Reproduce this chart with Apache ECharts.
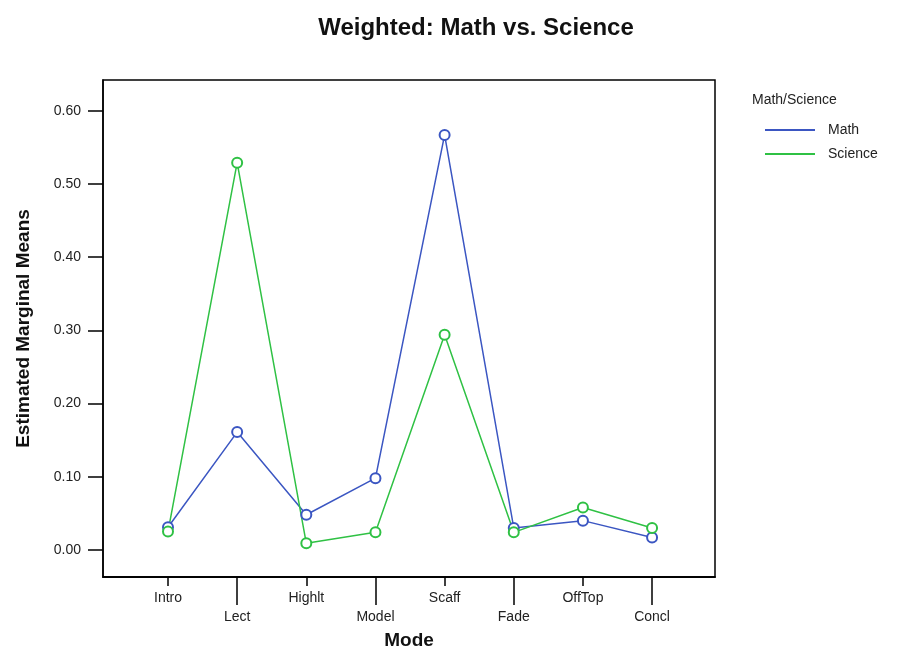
<!DOCTYPE html>
<html>
<head>
<meta charset="utf-8">
<script src="https://cdn.jsdelivr.net/npm/echarts@6/dist/echarts.min.js"></script>
<style>
  html, body { margin: 0; padding: 0; background: #fff; }
  #chart { width: 901px; height: 651px; }
</style>
</head>
<body>
<div id="chart"></div>
<script>
// modes on the x axis, in order
var categories = ['Intro', 'Lect', 'Highlt', 'Model', 'Scaff', 'Fade', 'OffTop', 'Concl']
var mathValues = [0.031, 0.161, 0.048, 0.098, 0.567, 0.030, 0.040, 0.017]
var scienceValues = [0.025, 0.529, 0.009, 0.024, 0.294, 0.024, 0.058, 0.030]
var yTicks = [0, 0.1, 0.2, 0.3, 0.4, 0.5, 0.6]

var font = 'Liberation Sans'
var evenIdx = [], oddIdx = []
categories.forEach(function (c, i) { (i % 2 ? oddIdx : evenIdx).push(i) })

function toPoints (arr) {
  return arr.map(function (v, i) { return [i, v] })
}

function xAxisFor (idx, tickLen, margin) {
  return {
    type: 'value',
    position: 'bottom',
    min: -0.94,
    max: 7.91,
    splitLine: { show: false },
    axisLine: { show: true, onZero: false, lineStyle: { color: '#000', width: 1.5 } },
    axisTick: { show: true, length: tickLen, customValues: idx, lineStyle: { color: '#000', width: 1.5 } },
    axisLabel: {
      customValues: idx,
      margin: margin,
      color: '#222',
      fontFamily: font,
      fontSize: 14,
      formatter: function (v) { return categories[Math.round(v)] }
    }
  }
}

var chart = echarts.init(document.getElementById('chart'))
chart.setOption({
  animation: false,
  color: ['#3b56c2', '#2fc144'],
  title: {
    text: 'Weighted: Math vs. Science',
    left: 471,
    top: 11,
    textAlign: 'center',
    textStyle: { fontFamily: font, fontSize: 24, fontWeight: 'bold', color: '#111' }
  },
  graphic: [{
    type: 'text',
    left: 752,
    top: 93,
    style: { text: 'Math/Science', fontFamily: font, fontSize: 14, fill: '#222' }
  }],
  legend: {
    orient: 'vertical',
    left: 760,
    top: 118,
    itemWidth: 50,
    itemHeight: 2,
    itemGap: 10,
    icon: 'rect',
    textStyle: { fontFamily: font, fontSize: 14, color: '#222', padding: [0, 0, 0, 8] },
    data: ['Math', 'Science']
  },
  grid: {
    left: 103,
    right: 186,
    top: 80,
    bottom: 74,
    outerBoundsMode: 'none',
    show: true,
    borderColor: '#000',
    borderWidth: 1.5
  },
  xAxis: [
    Object.assign(xAxisFor(evenIdx, 9, 14), {
      name: 'Mode',
      nameLocation: 'middle',
      nameGap: 54,
      nameTextStyle: { fontFamily: font, fontSize: 19, fontWeight: 'bold', color: '#111' }
    }),
    xAxisFor(oddIdx, 28, 33)
  ],
  yAxis: {
    type: 'value',
    min: -0.037,
    max: 0.642,
    splitLine: { show: false },
    axisLine: { show: true, onZero: false, lineStyle: { color: '#000', width: 1.5 } },
    axisTick: { show: true, length: 15, customValues: yTicks, lineStyle: { color: '#000', width: 1.5 } },
    axisLabel: {
      customValues: yTicks,
      margin: 22,
      color: '#222',
      fontFamily: font,
      fontSize: 14,
      formatter: function (v) { return v.toFixed(2) }
    },
    name: 'Estimated Marginal Means',
    nameLocation: 'middle',
    nameGap: 70,
    nameTextStyle: { fontFamily: font, fontSize: 19, fontWeight: 'bold', color: '#111' }
  },
  series: [
    {
      name: 'Math',
      type: 'line',
      xAxisIndex: 0,
      symbol: 'emptyCircle',
      symbolSize: 10,
      lineStyle: { width: 1.5 },
      itemStyle: { borderWidth: 1.5 },
      data: toPoints(mathValues)
    },
    {
      name: 'Science',
      type: 'line',
      xAxisIndex: 0,
      symbol: 'emptyCircle',
      symbolSize: 10,
      lineStyle: { width: 1.5 },
      itemStyle: { borderWidth: 1.5 },
      data: toPoints(scienceValues)
    }
  ]
})
</script>
</body>
</html>
